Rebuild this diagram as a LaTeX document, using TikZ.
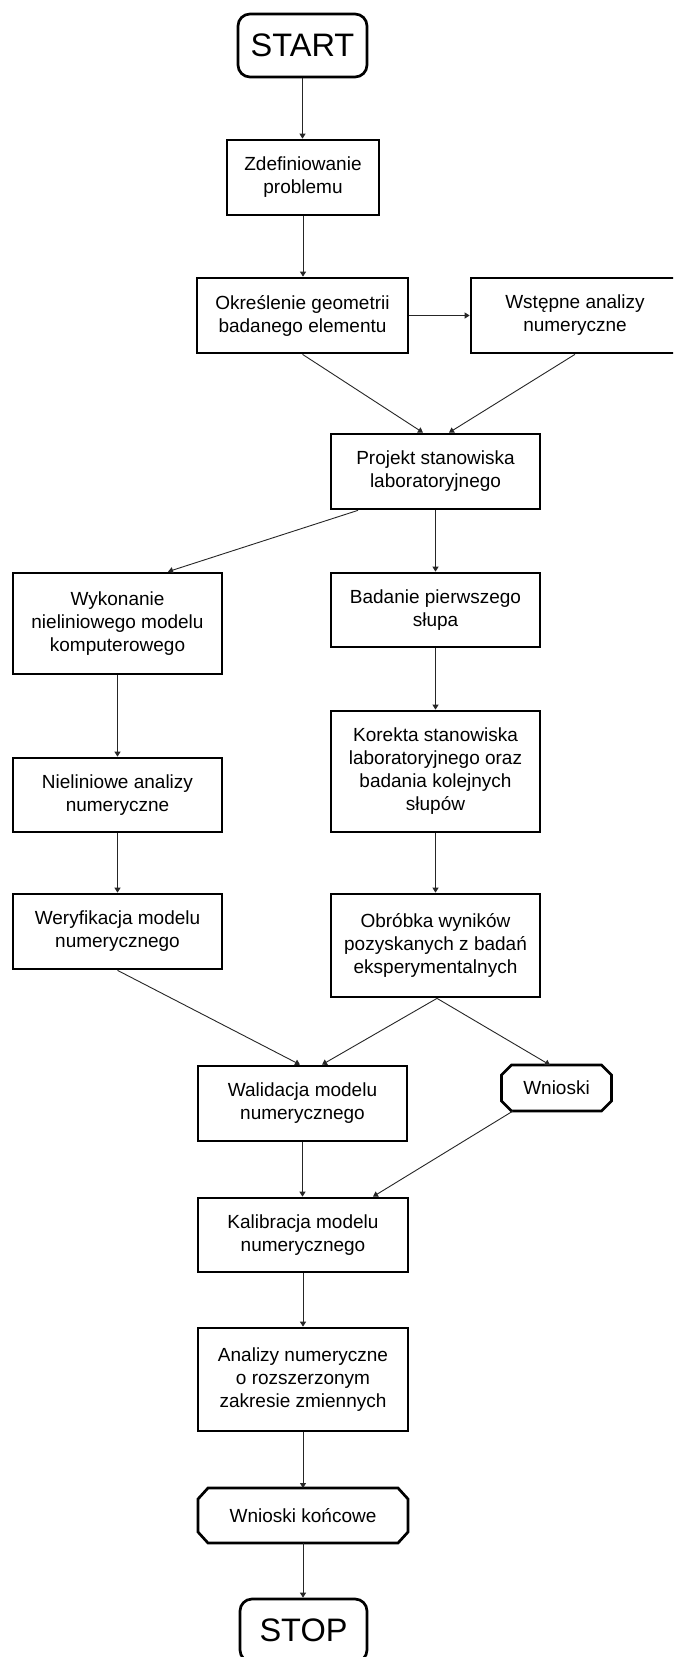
\documentclass[tikz,border=0pt]{standalone}
\usepackage{fontspec}
\setmainfont{Liberation Sans}
\usetikzlibrary{arrows.meta,calc}
\newcommand{\bodyfnt}{\fontsize{19}{23}\selectfont}
\newcommand{\bigfnt}{\fontsize{32.5}{36}\selectfont}
\tikzset{
  proc/.style={draw, line width=2.7pt, inner sep=0pt, align=center, font=\bodyfnt},
  term/.style={draw, line width=2.7pt, inner sep=0pt, rounded corners=12pt, align=center, font=\bigfnt},
  cham/.style={draw=none, line width=2.7pt, outer sep=0pt, inner sep=0pt, align=center, font=\bodyfnt},
  chamline/.style={line width=2.7pt, line join=miter},
  conn/.style={line width=0.9pt, black!85, -{Triangle[length=5pt,width=6pt]}}
}
\begin{document}
\begin{tikzpicture}[x=1pt,y=-1pt]
\useasboundingbox (0,0) rectangle (673,1657);
\clip (0,0) rectangle (673,1657);
\fill[white] (0,0) rectangle (673,1657);

\node[term, minimum width=129pt, minimum height=63pt] (start) at (302.5,45.5) {START};
\node[proc, minimum width=152pt, minimum height=75pt] (zdef) at (303,177.5) {Zdefiniowanie\\problemu};
\node[proc, minimum width=211pt, minimum height=75pt] (okr) at (302.5,315.5) {Określenie geometrii\\badanego elementu};
\node[proc, minimum width=208pt, minimum height=75pt] (wst) at (575,315.5) {Wstępne analizy\\numeryczne};
\node[proc, minimum width=209pt, minimum height=75pt] (proj) at (435.5,471.5) {Projekt stanowiska\\laboratoryjnego};
\node[proc, minimum width=209pt, minimum height=101pt] (wyk) at (117.5,623.5) {Wykonanie\\nieliniowego modelu\\komputerowego};
\node[proc, minimum width=209pt, minimum height=74pt] (bad) at (435.5,610) {Badanie pierwszego\\słupa};
\node[proc, minimum width=209pt, minimum height=121pt] (kor) at (435.5,771.5) {Korekta stanowiska\\laboratoryjnego oraz\\badania kolejnych\\słupów};
\node[proc, minimum width=209pt, minimum height=74pt] (nie) at (117.5,795) {Nieliniowe analizy\\numeryczne};
\node[proc, minimum width=209pt, minimum height=75pt] (wer) at (117.5,931.5) {Weryfikacja modelu\\numerycznego};
\node[proc, minimum width=209pt, minimum height=103pt] (obr) at (435.5,945.5) {Obróbka wyników\\pozyskanych z badań\\eksperymentalnych};
\node[proc, minimum width=209pt, minimum height=75pt] (wal) at (302.5,1103.5) {Walidacja modelu\\numerycznego};
\node[cham, minimum width=110pt, minimum height=46pt] (wn) at (556.5,1088) {Wnioski};
\node[proc, minimum width=210pt, minimum height=74pt] (kal) at (303,1235) {Kalibracja modelu\\numerycznego};
\node[proc, minimum width=210pt, minimum height=103pt] (ana) at (303,1379.5) {Analizy numeryczne\\o rozszerzonym\\zakresie zmiennych};
\node[cham, minimum width=210pt, minimum height=55pt] (wnk) at (303,1515.5) {Wnioski końcowe};
\node[term, minimum width=127pt, minimum height=63pt] (stop) at (303.5,1630.5) {STOP};

% chamfered outlines
\draw[chamline] ($(wn.north west)+(10,0)$) -- ($(wn.north east)+(-10,0)$) -- ($(wn.north east)+(0,10)$)
  -- ($(wn.south east)+(0,-10)$) -- ($(wn.south east)+(-10,0)$) -- ($(wn.south west)+(10,0)$)
  -- ($(wn.south west)+(0,-10)$) -- ($(wn.north west)+(0,10)$) -- cycle;
\draw[chamline] ($(wnk.north west)+(10,0)$) -- ($(wnk.north east)+(-10,0)$) -- ($(wnk.north east)+(0,11)$)
  -- ($(wnk.south east)+(0,-11)$) -- ($(wnk.south east)+(-10,0)$) -- ($(wnk.south west)+(10,0)$)
  -- ($(wnk.south west)+(0,-11)$) -- ($(wnk.north west)+(0,11)$) -- cycle;

% connectors
\draw[conn] (start.south) -- (start.south |- zdef.north);
\draw[conn] (zdef.south) -- (zdef.south |- okr.north);
\draw[conn] (okr.east) -- (wst.west);
\draw[conn] (okr.south) -- ([xshift=-12.5pt]proj.north);
\draw[conn] (wst.south) -- ([xshift=13.5pt]proj.north);
\draw[conn] ([xshift=-77.5pt]proj.south) -- ([xshift=50.5pt]wyk.north);
\draw[conn] (proj.south) -- (bad.north);
\draw[conn] (wyk.south) -- (nie.north);
\draw[conn] (bad.south) -- (kor.north);
\draw[conn] (kor.south) -- (obr.north);
\draw[conn] (nie.south) -- (wer.north);
\draw[conn] (wer.south) -- ([xshift=-2.5pt]wal.north);
\draw[conn] ([xshift=1.5pt]obr.south) -- ([xshift=19.5pt]wal.north);
\draw[conn] ([xshift=1.5pt]obr.south) -- ([xshift=-6.5pt]wn.north);
\draw[conn] (wal.south) -- (wal.south |- kal.north);
\draw[conn] ([xshift=-43.5pt]wn.south) -- ([xshift=70pt]kal.north);
\draw[conn] (kal.south) -- (ana.north);
\draw[conn] (ana.south) -- (wnk.north);
\draw[conn] (wnk.south) -- (wnk.south |- stop.north);
\end{tikzpicture}
\end{document}
